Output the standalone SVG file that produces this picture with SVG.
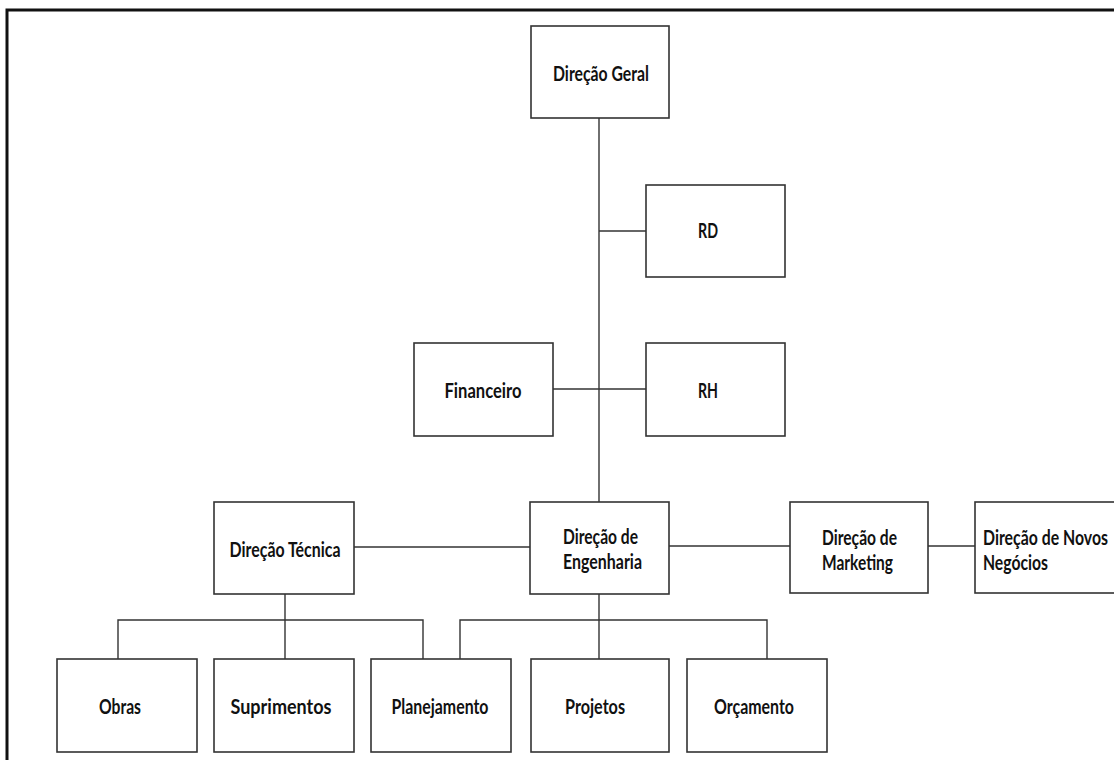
<svg xmlns="http://www.w3.org/2000/svg" width="1114" height="760" viewBox="0 0 1114 760">
  <style>
    .box { fill: #ffffff; stroke: #333333; stroke-width: 1.6; }
    .link { fill: none; stroke: #333333; stroke-width: 1.4; }
    .frame { fill: none; stroke: #111111; stroke-width: 3; }
    .lbl { font-family: Lato, "Liberation Sans", sans-serif; font-weight: bold; font-size: 21px; fill: #111111; }
    .c { text-anchor: middle; }
  </style>
  <rect width="1114" height="760" fill="#ffffff"/>

  <!-- outer frame (open on the right and bottom) -->
  <path class="frame" d="M7,770 V10 H1120"/>

  <!-- connectors -->
  <g id="connectors">
    <path class="link" d="M599,118 V502"/>
    <path class="link" d="M599,231 H646"/>
    <path class="link" d="M553,389 H646"/>
    <path class="link" d="M354,547 H530"/>
    <path class="link" d="M669,546 H790"/>
    <path class="link" d="M928,546 H975"/>
    <path class="link" d="M285,594 V659"/>
    <path class="link" d="M118,659 V620 H423 V659"/>
    <path class="link" d="M599,594 V659"/>
    <path class="link" d="M460,659 V620 H767 V659"/>
  </g>

  <g id="direcao-geral">
    <rect class="box" x="531" y="26" width="138" height="92"/>
    <text class="lbl c" x="601" y="81" textLength="96" lengthAdjust="spacingAndGlyphs">Direção Geral</text>
  </g>
  <g id="rd">
    <rect class="box" x="646" y="185" width="139" height="92"/>
    <text class="lbl c" x="708" y="238" textLength="20" lengthAdjust="spacingAndGlyphs">RD</text>
  </g>
  <g id="financeiro">
    <rect class="box" x="414" y="343" width="139" height="93"/>
    <text class="lbl c" x="483" y="398" textLength="77" lengthAdjust="spacingAndGlyphs">Financeiro</text>
  </g>
  <g id="rh">
    <rect class="box" x="646" y="343" width="139" height="93"/>
    <text class="lbl c" x="708" y="398" textLength="20" lengthAdjust="spacingAndGlyphs">RH</text>
  </g>
  <g id="direcao-tecnica">
    <rect class="box" x="214" y="502" width="140" height="92"/>
    <text class="lbl c" x="285" y="557" textLength="111" lengthAdjust="spacingAndGlyphs">Direção Técnica</text>
  </g>
  <g id="direcao-engenharia">
    <rect class="box" x="530" y="502" width="139" height="92"/>
    <text class="lbl" x="563" y="544" textLength="75" lengthAdjust="spacingAndGlyphs">Direção de</text>
    <text class="lbl" x="563" y="569" textLength="79" lengthAdjust="spacingAndGlyphs">Engenharia</text>
  </g>
  <g id="direcao-marketing">
    <rect class="box" x="790" y="502" width="138" height="91"/>
    <text class="lbl" x="822" y="545" textLength="75" lengthAdjust="spacingAndGlyphs">Direção de</text>
    <text class="lbl" x="822" y="570" textLength="71" lengthAdjust="spacingAndGlyphs">Marketing</text>
  </g>
  <g id="direcao-novos-negocios">
    <rect class="box" x="975" y="502" width="145" height="91"/>
    <text class="lbl" x="983" y="545" textLength="125" lengthAdjust="spacingAndGlyphs">Direção de Novos</text>
    <text class="lbl" x="983" y="570" textLength="65" lengthAdjust="spacingAndGlyphs">Negócios</text>
  </g>
  <g id="obras">
    <rect class="box" x="57" y="659" width="140" height="93"/>
    <text class="lbl c" x="120" y="714" textLength="42" lengthAdjust="spacingAndGlyphs">Obras</text>
  </g>
  <g id="suprimentos">
    <rect class="box" x="214" y="659" width="140" height="93"/>
    <text class="lbl c" x="281" y="714" textLength="101" lengthAdjust="spacingAndGlyphs">Suprimentos</text>
  </g>
  <g id="planejamento">
    <rect class="box" x="371" y="659" width="140" height="93"/>
    <text class="lbl c" x="440" y="714" textLength="97" lengthAdjust="spacingAndGlyphs">Planejamento</text>
  </g>
  <g id="projetos">
    <rect class="box" x="531" y="659" width="138" height="93"/>
    <text class="lbl c" x="595" y="714" textLength="60" lengthAdjust="spacingAndGlyphs">Projetos</text>
  </g>
  <g id="orcamento">
    <rect class="box" x="687" y="659" width="140" height="93"/>
    <text class="lbl c" x="754" y="714" textLength="80" lengthAdjust="spacingAndGlyphs">Orçamento</text>
  </g>
</svg>
